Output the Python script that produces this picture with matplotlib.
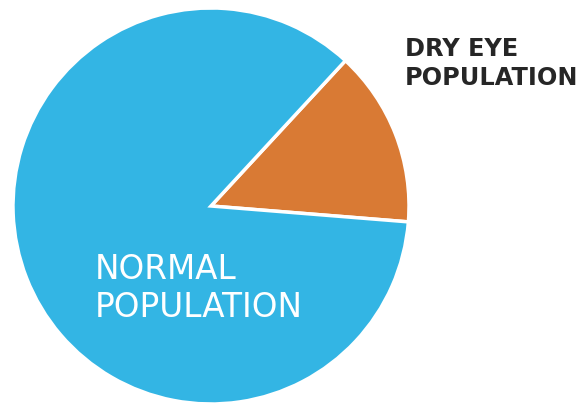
import matplotlib
matplotlib.use("Agg")
import matplotlib.pyplot as plt

categories = ["DRY EYE\nPOPULATION", "NORMAL\nPOPULATION"]
shares = [14.4, 85.6]
colors = ["#D97A34", "#33B5E4"]

W, H = 581, 409
fig = plt.figure(figsize=(W / 100, H / 100), dpi=100)
ax = fig.add_axes([0, 0, 1, 1])
ax.pie(shares, colors=colors, startangle=-4.6, counterclock=True,
       center=(211, H - 206), radius=198,
       wedgeprops=dict(edgecolor="white", linewidth=2.5, joinstyle="miter"))
ax.set_xlim(0, W)
ax.set_ylim(0, H)
ax.set_aspect("equal")
ax.axis("off")

# label placement (x, baselines in pixel rows), colour, size, weight
label_style = [
    dict(x=405, baselines=[56.5, 85], color="#262626", size=17.3, weight="bold"),
    dict(x=95, baselines=[279, 317], color="white", size=23.5, weight="normal"),
]
for text, st in zip(categories, label_style):
    for line, b in zip(text.split("\n"), st["baselines"]):
        ax.text(st["x"], H - b, line, ha="left", va="baseline",
                color=st["color"], fontsize=st["size"], fontweight=st["weight"],
                family="DejaVu Sans")

fig.savefig("out.png", dpi=100)
